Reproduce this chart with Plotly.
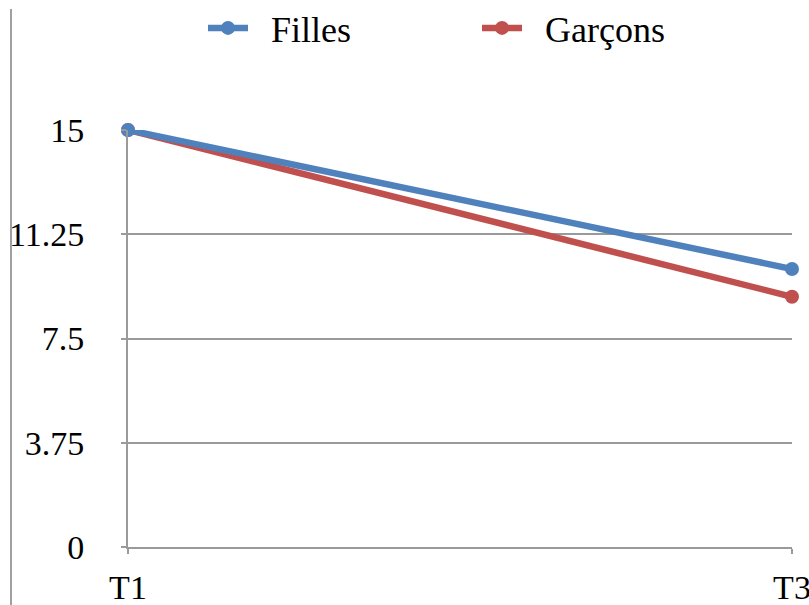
import plotly.graph_objects as go

# Measurement points and group scores
periods = ["T1", "T3"]
filles = [15, 10]
garcons = [15, 9]
y_ticks = [0, 3.75, 7.5, 11.25, 15]
y_tick_text = ["0", "3.75", "7.5", "11.25", "15"]

BLUE = "#4F81BD"
RED = "#C0504D"
GRID = "#9a9a9a"
FONT = "Liberation Serif, Times New Roman, serif"
PAD = "\u00a0\u00a0"  # extra room between legend symbol and label

W, H = 809, 605
L, R, T, B = 128, 17, 130, 58
pw, ph = W - L - R, H - T - B

fig = go.Figure()
fig.add_trace(go.Scatter(
    x=periods, y=garcons, name=PAD + "Garçons", mode="lines+markers",
    line=dict(color=RED, width=6.5), marker=dict(color=RED, size=14),
    cliponaxis=False,
))
fig.add_trace(go.Scatter(
    x=periods, y=filles, name=PAD + "Filles", mode="lines+markers",
    line=dict(color=BLUE, width=6.5), marker=dict(color=BLUE, size=14),
    cliponaxis=False,
))

fig.update_layout(
    width=W, height=H,
    margin=dict(l=L, r=R, t=T, b=B, pad=0, autoexpand=False),
    paper_bgcolor="white", plot_bgcolor="white",
    font=dict(family=FONT, size=34, color="black"),
    showlegend=True,
    legend=dict(
        orientation="h", x=(203 - L) / pw, xanchor="left",
        y=1 + (T - 28) / ph, yanchor="middle",
        font=dict(family=FONT, size=36, color="black"),
        traceorder="reversed", itemwidth=40,
        entrywidth=219, entrywidthmode="pixels",
        bgcolor="rgba(0,0,0,0)",
    ),
    xaxis=dict(
        type="category", range=[0, 1], showgrid=False, automargin=False,
        showline=True, linecolor=GRID, linewidth=2,
        ticks="outside", ticklen=5, tickcolor=GRID, tickwidth=2,
        ticklabelstandoff=4,
        tickfont=dict(family=FONT, size=34, color="black"),
        zeroline=False,
    ),
    yaxis=dict(
        range=[0, 15], tickvals=y_ticks, ticktext=y_tick_text, automargin=False,
        showgrid=True, gridcolor=GRID, gridwidth=2,
        showline=True, linecolor=GRID, linewidth=2,
        ticks="outside", ticklen=5, tickcolor=GRID, tickwidth=2,
        ticklabelstandoff=30,
        tickfont=dict(family=FONT, size=34, color="black"),
        zeroline=False,
    ),
)

# Left border of the chart frame
fig.add_shape(
    type="line", xref="paper", yref="paper",
    x0=(11 - L) / pw, x1=(11 - L) / pw,
    y0=-B / ph, y1=1 + (T - 9) / ph,
    line=dict(color="#a0a0a0", width=2),
)

fig.write_html("out.html")
